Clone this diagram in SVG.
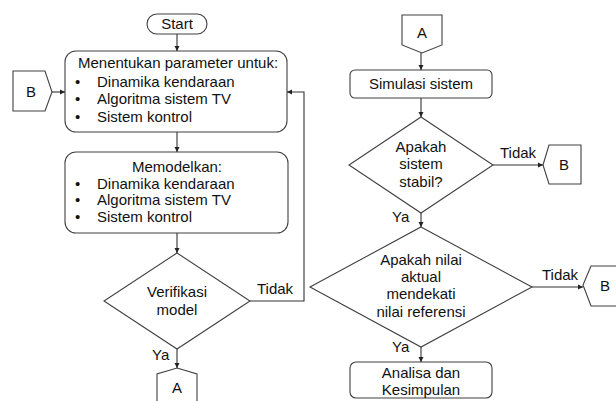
<svg xmlns="http://www.w3.org/2000/svg" width="616" height="401" viewBox="0 0 616 401">
<defs>
<marker id="ah" markerWidth="6" markerHeight="6" refX="5" refY="3" orient="auto" markerUnits="userSpaceOnUse">
<path d="M0,0.5 L5,3 L0,5.5 z" fill="#222"/>
</marker>
<style>
.s{fill:#fff;stroke:#404040;stroke-width:1.1}
.c{fill:none;stroke:#333;stroke-width:1.1;marker-end:url(#ah)}
text{font-family:"Liberation Sans",Arial,sans-serif;font-size:15px;fill:#111}
.m{text-anchor:middle}
</style>
</defs>
<rect width="616" height="401" fill="#fff"/>
<g id="start"><rect class="s" x="147" y="14" width="60" height="20" rx="10"/><text class="m" x="177" y="29">Start</text></g>
<g id="box1"><rect class="s" x="65" y="51" width="222" height="81" rx="11"/>
<text x="78" y="68">Menentukan parameter untuk:</text>
<text x="75" y="87">•</text><text x="97" y="87">Dinamika kendaraan</text>
<text x="75" y="104">•</text><text x="97" y="104">Algoritma sistem TV</text>
<text x="75" y="122">•</text><text x="97" y="122">Sistem kontrol</text></g>
<g id="connB1"><path class="s" d="M13,71 L45,71 L52,92 L45,111 L13,111 z"/><text class="m" x="31" y="97">B</text></g>
<g id="box2"><rect class="s" x="65" y="152" width="223" height="81" rx="11"/>
<text class="m" x="177" y="172">Memodelkan:</text>
<text x="75" y="189">•</text><text x="97" y="189">Dinamika kendaraan</text>
<text x="75" y="205">•</text><text x="97" y="205">Algoritma sistem TV</text>
<text x="75" y="222">•</text><text x="97" y="222">Sistem kontrol</text></g>
<g id="dec1"><path class="s" d="M177,253 L250,301 L177,349 L104,301 z"/>
<text class="m" x="177" y="297">Verifikasi</text><text class="m" x="177" y="315">model</text></g>
<g id="connA1"><path class="s" d="M177,368 L197,374 L197,402 L157,402 L157,374 z"/><text class="m" x="177" y="393">A</text></g>
<g id="connA2"><path class="s" d="M402,15 L442,15 L442,45 L422,53 L402,45 z"/><text class="m" x="422" y="38">A</text></g>
<g id="sim"><rect class="s" x="350" y="70" width="142" height="28" rx="5"/><text class="m" x="421" y="89">Simulasi sistem</text></g>
<g id="dec2"><path class="s" d="M421,117 L493,165 L421,213 L349,165 z"/>
<text class="m" x="421" y="152">Apakah</text><text class="m" x="421" y="169">sistem</text><text class="m" x="421" y="187">stabil?</text></g>
<g id="connB2"><path class="s" d="M543,165 L549,145 L581,145 L581,184 L549,184 z"/><text class="m" x="564" y="170">B</text></g>
<g id="dec3"><path class="s" d="M421,227 L532,287 L421,347 L310,287 z"/>
<text class="m" x="421" y="265">Apakah nilai</text><text class="m" x="421" y="282">aktual</text><text class="m" x="421" y="299">mendekati</text><text class="m" x="421" y="317">nilai referensi</text></g>
<g id="connB3"><path class="s" d="M583,285 L591,266 L620,266 L620,306 L591,306 z"/><text class="m" x="605" y="291">B</text></g>
<g id="end"><rect class="s" x="350" y="362" width="142" height="36" rx="6"/><text class="m" x="421" y="378">Analisa dan</text><text class="m" x="421" y="395">Kesimpulan</text></g>
<g id="connectors">
<line class="c" x1="177" y1="34" x2="177" y2="51"/>
<line class="c" x1="52" y1="92" x2="65" y2="92"/>
<line class="c" x1="177" y1="132" x2="177" y2="152"/>
<line class="c" x1="177" y1="233" x2="177" y2="253"/>
<path class="c" d="M250,301 L304,301 L304,92 L287,92"/>
<line class="c" x1="177" y1="349" x2="177" y2="368"/>
<line class="c" x1="421" y1="53" x2="421" y2="70"/>
<line class="c" x1="421" y1="98" x2="421" y2="117"/>
<line class="c" x1="493" y1="165" x2="543" y2="165"/>
<line class="c" x1="421" y1="213" x2="421" y2="227"/>
<line class="c" x1="532" y1="287" x2="583" y2="287"/>
<line class="c" x1="421" y1="347" x2="421" y2="362"/>
<text x="257" y="294">Tidak</text>
<text x="152" y="360">Ya</text>
<text x="500" y="158">Tidak</text>
<text x="392" y="222">Ya</text>
<text x="542" y="280">Tidak</text>
<text x="392" y="352">Ya</text>
</g>
</svg>
